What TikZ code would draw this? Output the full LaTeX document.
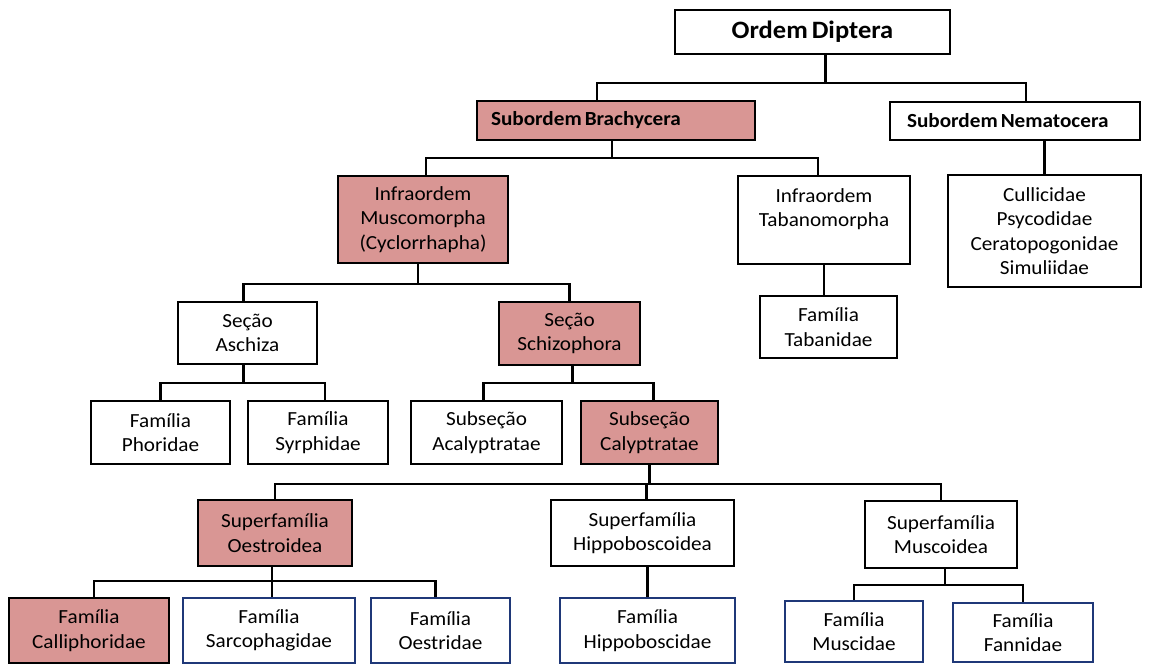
\documentclass[tikz,border=0pt]{standalone}
\usepackage{fontspec}
\setmainfont{Carlito}[FakeStretch=1.06]
\usetikzlibrary{calc}
\definecolor{rosa}{HTML}{D99694}
\definecolor{azul}{RGB}{31,56,120}
\newcommand\ordfont{\bfseries\fontsize{25}{28}\selectfont\spaceskip=4pt\relax}
\newcommand\subfont{\bfseries\fontsize{20}{23}\selectfont}
\newcommand\tight{\spaceskip=3pt\relax}
\tikzset{
  taxon/.style={draw, line width=2.4pt, align=center, inner sep=0pt,
    font=\fontsize{20}{24.5}\selectfont},
  marked/.style={taxon, fill=rosa},
  leaf/.style={taxon, draw=azul, line width=2pt},
  order/.style={taxon, font=\ordfont},
  suborder/.style={font=\subfont, align=left, inner ysep=0pt},
  link/.style={line width=2.4pt},
}

\begin{document}
\begin{tikzpicture}[x=1pt, y=-1pt]
		\useasboundingbox (0,0) rectangle (1159,664);
		
		%%%%% TAXA %%%%%
		\node[order, minimum width=275pt, minimum height=44pt] (ordem) at (812.5,32) {Ordem Diptera};
		
		\node[marked, suborder, text width=250pt, inner xsep=14pt, minimum height=39pt] (brachy) at (616,120.5) {\tight Subordem Brachycera};
		\node[taxon, suborder, text width=216pt, inner xsep=17pt, minimum height=38pt] (nemato) at (1015,121) {\tight Subordem Nematocera};
		
		\node[marked, minimum width=170pt, minimum height=87pt] (musco) at (423,219.5) {Infraordem\\Muscomorpha\\(Cyclorrhapha)};
		\node[taxon, minimum width=172pt, minimum height=88pt] (tabano) at (824,220) {Infraordem\\Tabanomorpha\\\mbox{}};
		\node[taxon, minimum width=193pt, minimum height=112pt] (nemfam) at (1044.5,231) {Cullicidae\\Psycodidae\\Ceratopogonidae\\Simuliidae};
		
		\node[taxon, minimum width=137pt, minimum height=62pt] (tabanid) at (828.5,327) {Família\\Tabanidae};
		\node[taxon, minimum width=139pt, minimum height=62pt] (aschiza) at (247.5,333) {Seção\\Aschiza};
		\node[marked, minimum width=141pt, minimum height=63pt] (schizo) at (569.5,333.5) {Seção\\Schizophora};
		
		\node[taxon, minimum width=139pt, minimum height=63pt] (phorid) at (160.5,432.5) {Família\\Phoridae};
		\node[taxon, minimum width=140pt, minimum height=63pt] (syrphid) at (318,432.5) {Família\\Syrphidae};
		\node[taxon, minimum width=151pt, minimum height=63pt] (acalyp) at (486.5,432.5) {Subseção\\Acalyptratae};
		\node[marked, minimum width=137pt, minimum height=63pt] (calyp) at (649.5,432.5) {Subseção\\Calyptratae};
		
		\node[marked, minimum width=154pt, minimum height=66pt] (oestroid) at (275,533) {Superfamília\\Oestroidea};
		\node[taxon, minimum width=183pt, minimum height=66pt] (hippoid) at (642.5,533) {Superfamília\\Hippoboscoidea};
		\node[taxon, minimum width=152pt, minimum height=67pt] (muscoid) at (941,534.5) {Superfamília\\Muscoidea};
		
		\node[marked, minimum width=160pt, minimum height=65pt] (callip) at (89,630.5) {Família\\Calliphoridae};
		\node[leaf, minimum width=172pt, minimum height=65pt] (sarco) at (269,630.5) {Família\\Sarcophagidae};
		\node[leaf, minimum width=139pt, minimum height=65pt] (oestrid) at (440.5,630.5) {Família\\Oestridae};
		\node[leaf, minimum width=175pt, minimum height=65pt] (hippid) at (647.5,630.5) {Família\\Hippoboscidae};
		\node[leaf, minimum width=138pt, minimum height=61pt] (muscid) at (854,631.5) {Família\\Muscidae};
		\node[leaf, minimum width=140pt, minimum height=59pt] (fannid) at (1023,632.5) {Família\\Fannidae};
		
		%%%%% LINKS %%%%%
		\draw[link] ([xshift=13pt]ordem.south) -- ++(0,28) coordinate (j0);
		\draw[link] ([xshift=-19pt]brachy.north) |- (j0) -| ([xshift=11pt]nemato.north);
		
		\draw[link] ([xshift=-4pt]brachy.south) -- ++(0,17) coordinate (j1);
		\draw[link] ([xshift=3pt]musco.north) |- (j1) -| ([xshift=-6pt]tabano.north);
		\draw[link] (nemfam.north |- nemato.south) -- (nemfam.north);
		\draw[link] (tabano.south) -- (tabano.south |- tabanid.north);
		
		\draw[link] ([xshift=-5pt]musco.south) -- ++(0,20) coordinate (j2);
		\draw[link] ([xshift=-4pt]aschiza.north) |- (j2) -| (schizo.north);
		
		\draw[link] ([xshift=-4pt]aschiza.south) -- ++(0,18) coordinate (j3);
		\draw[link] (phorid.north) |- (j3) -| ([xshift=7pt]syrphid.north);
		\draw[link] ([xshift=3pt]schizo.south) -- ++(0,17) coordinate (j4);
		\draw[link] ([xshift=-3pt]acalyp.north) |- (j4) -| ([xshift=4pt]calyp.north);
		
		\draw[link] (calyp.south) -- ++(0,19) coordinate (j5);
		\draw[link] (oestroid.north) |- (j5) -| (muscoid.north);
		\draw[link] ([xshift=4pt]hippoid.north) -- ([xshift=4pt]hippoid.north |- j5);
		
		\draw[link] ([xshift=-3pt]oestroid.south) -- ++(0,14) coordinate (j6);
		\draw[link] ([xshift=5pt]callip.north) |- (j6) -| ([xshift=-5pt]oestrid.north);
		\draw[link] (j6) -- (j6 |- sarco.north);
		\draw[link] (hippid.north |- hippoid.south) -- (hippid.north);
		\draw[link] ([xshift=4pt]muscoid.south) -- ++(0,16) coordinate (j7);
		\draw[link] (muscid.north) |- (j7) -| (fannid.north);
		
\end{tikzpicture}
\end{document}
